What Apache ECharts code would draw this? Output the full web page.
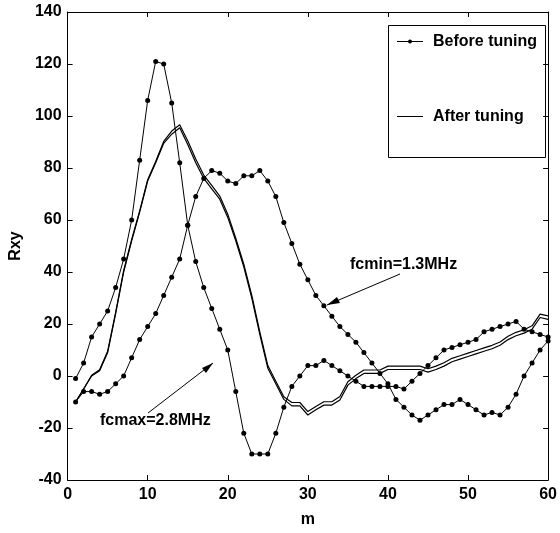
<!DOCTYPE html>
<html>
<head>
<meta charset="utf-8">
<script src="https://cdn.jsdelivr.net/npm/echarts@6/dist/echarts.min.js"></script>
<style>
  html, body { margin: 0; padding: 0; background: #fff; }
  #chart { width: 560px; height: 533px; }
</style>
</head>
<body>
<div id="chart"></div>
<script>
// before tuning, fcmax = 2.8MHz (sampled at m = 1..60)
var beforeMax = [-1, 5, 15, 20, 25, 34, 45, 60, 83, 106,
    121, 120, 105, 82, 58, 44, 34, 26, 18, 10,
    -6, -22, -30, -30, -30, -22, -12, -4, 0, 4,
    4, 6, 4, 2, 0, -2, -4, -4, -4, -4,
    -4, -5, -2, 1, 4, 7, 10, 11, 12, 13,
    14, 17, 18, 19, 20, 21, 18, 17, 16, 15];
// before tuning, fcmin = 1.3MHz
var beforeMin = [-10, -6, -6, -7, -6, -3, 0, 7, 14, 19,
    24, 31, 38, 45, 58, 69, 76, 79, 78, 75,
    74, 77, 77, 79, 75, 69, 59, 51, 43, 37,
    31, 27, 23, 19, 16, 13, 9, 5, 1, -3,
    -9, -12, -15, -17, -15, -13, -11, -11, -9, -11,
    -13, -15, -14, -15, -12, -7, 0, 5, 10, 13.5];
// after tuning (drawn as two almost coincident curves)
var afterA = [-10, -5, 0, 2, 9, 24, 40, 52, 63, 75,
    82, 89.5, 93, 95.5, 89, 82, 76, 72, 68, 61,
    52, 42, 30, 16, 3, -3, -9, -11.5, -11.5, -15,
    -13, -11.2, -11.2, -9.2, -3.5, -1, 1, 1, 1, 2.5,
    2.5, 2.5, 2.5, 2.5, 1.5, 2.5, 3.8, 5.5, 6.5, 7.5,
    8.5, 9.5, 10.5, 11.8, 14, 15.5, 16.5, 18, 22.5, 21.8];
var afterB = [-10, -5, 0.3, 2.4, 9.5, 24.5, 40.5, 52.5, 63.5, 75.5,
    82.5, 90.2, 94.2, 96.6, 90.5, 83.5, 77.3, 73.3, 69.2, 62.2,
    53, 43, 31, 17, 4, -2, -8, -10.2, -10.2, -13.7,
    -11.7, -9.9, -9.9, -7.9, -2.2, 0.3, 2.3, 2.3, 2.3, 3.8,
    3.8, 3.8, 3.8, 3.8, 2.8, 3.8, 5.1, 6.8, 7.8, 8.8,
    9.8, 10.8, 11.8, 13.1, 15.3, 16.8, 17.8, 19.3, 23.8, 23.1];
var xTicks = [0, 10, 20, 30, 40, 50, 60];
var yTicks = [-40, -20, 0, 20, 40, 60, 80, 100, 120, 140];
var legendNames = ['Before tuning', 'After tuning'];

function pairs(vals) {
    var out = [];
    for (var i = 0; i < vals.length; i++) {
        out.push([i + 1, vals[i]]);
    }
    return out;
}

var font = 'Liberation Sans, Arial, sans-serif';
var black = '#000';

var chart = echarts.init(document.getElementById('chart'));

function xAx(pos, labels) {
    return {
        type: 'value', position: pos,
        min: xTicks[0], max: xTicks[xTicks.length - 1], interval: 10,
        axisLine: { show: true, onZero: false, lineStyle: { color: black, width: 1 } },
        axisTick: { show: true, inside: true, length: 5, lineStyle: { color: black } },
        axisLabel: { show: labels, color: black, fontWeight: 'bold', fontSize: 16, fontFamily: font, margin: 7 },
        splitLine: { show: false },
        name: labels ? 'm' : '', nameLocation: 'middle', nameGap: 32,
        nameTextStyle: { color: black, fontWeight: 'bold', fontSize: 16, fontFamily: font }
    };
}
function yAx(pos, labels) {
    return {
        type: 'value', position: pos,
        min: yTicks[0], max: yTicks[yTicks.length - 1], interval: 20,
        axisLine: { show: true, onZero: false, lineStyle: { color: black, width: 1 } },
        axisTick: { show: true, inside: true, length: 5, lineStyle: { color: black } },
        axisLabel: { show: labels, color: black, fontWeight: 'bold', fontSize: 16, fontFamily: font, margin: 6 },
        splitLine: { show: false },
        name: labels ? 'Rxy' : '', nameLocation: 'middle', nameGap: 31,
        nameTextStyle: { color: black, fontWeight: 'bold', fontSize: 16, fontFamily: font }
    };
}

function beforeSeries(vals) {
    return {
        name: legendNames[0], type: 'line', data: pairs(vals),
        symbol: 'circle', symbolSize: 5, showSymbol: true,
        itemStyle: { color: black },
        lineStyle: { color: black, width: 1 },
        animation: false, z: 3
    };
}
function afterSeries(vals) {
    return {
        name: legendNames[1], type: 'line', data: pairs(vals),
        symbol: 'none',
        itemStyle: { color: black },
        lineStyle: { color: black, width: 1.2 },
        animation: false, z: 2
    };
}

// legend box drawn by hand so the two samples match the original
var legendGraphic = {
    type: 'group', z: 100,
    children: [
        { type: 'rect', shape: { x: 388.5, y: 25.5, width: 157, height: 132 },
          style: { fill: '#fff', stroke: black, lineWidth: 1 } },
        { type: 'rect', shape: { x: 397, y: 41, width: 26, height: 1 }, style: { fill: black } },
        { type: 'circle', shape: { cx: 410, cy: 41.5, r: 2 }, style: { fill: black } },
        { type: 'text', x: 433, y: 42,
          style: { text: legendNames[0], fill: black, font: 'bold 16px ' + font, verticalAlign: 'middle' } },
        { type: 'rect', shape: { x: 397, y: 116, width: 26, height: 1 }, style: { fill: black } },
        { type: 'text', x: 433, y: 117,
          style: { text: legendNames[1], fill: black, font: 'bold 16px ' + font, verticalAlign: 'middle' } }
    ]
};

var option = {
    backgroundColor: '#fff',
    animation: false,
    grid: { left: 52, right: 9, top: 12, bottom: 53 },
    xAxis: [xAx('bottom', true), xAx('top', false)],
    yAxis: [yAx('left', true), yAx('right', false)],
    legend: { show: false, data: legendNames },
    series: [
        beforeSeries(beforeMax),
        beforeSeries(beforeMin),
        afterSeries(afterA),
        afterSeries(afterB)
    ],
    graphic: [
        legendGraphic,
        {
            type: 'text', left: 350, top: 257,
            style: { text: 'fcmin=1.3MHz', fill: black, font: 'bold 16px ' + font }
        },
        {
            type: 'text', left: 100, top: 413,
            style: { text: 'fcmax=2.8MHz', fill: black, font: 'bold 16px ' + font }
        },
        {
            type: 'polyline',
            shape: { points: [[400, 274], [327, 305]] },
            style: { stroke: black, lineWidth: 1 }
        },
        {
            type: 'polygon',
            shape: { points: [[327, 305], [337, 297], [340, 303]] },
            style: { fill: black }
        },
        {
            type: 'polyline',
            shape: { points: [[148, 413], [213, 363]] },
            style: { stroke: black, lineWidth: 1 }
        },
        {
            type: 'polygon',
            shape: { points: [[213, 363], [206, 373], [202, 368]] },
            style: { fill: black }
        }
    ]
};

chart.setOption(option);
</script>
</body>
</html>
